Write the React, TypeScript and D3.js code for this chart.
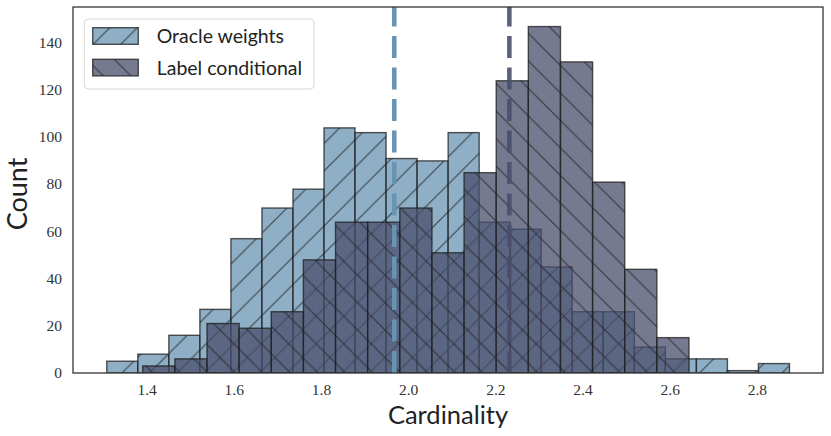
import React from 'react';
import * as d3 from 'd3';

// histogram counts
const oracleCounts = [5, 8, 16, 27, 57, 70, 78, 104, 102, 91, 90, 102, 64, 61, 45, 26, 26, 11, 6, 6, 1, 4];
const labelCounts = [3, 6, 21, 19, 26, 48, 64, 64, 70, 51, 85, 124, 147, 132, 81, 44, 15];
const oracleRange = [1.3075, 2.8735];
const labelRange = [1.39, 2.643];
const oracleMean = 1.967;
const labelMean = 2.231;
const xTicks = [1.4, 1.6, 1.8, 2.0, 2.2, 2.4, 2.6, 2.8];
const yTicks = [0, 20, 40, 60, 80, 100, 120, 140];
const seriesNames = ['Oracle weights', 'Label conditional'];

const W = 831;
const H = 436;
const left = 73, right = 823, top = 7, bottom = 373;
const lightColor = '#6894b3';
const darkColor = '#484e6b';
const edge = '#1e1e1e';
const alpha = 0.75;
const hatch = 27.5;

const makeBins = (counts: number[], range: number[]) => {
  const w = (range[1] - range[0]) / counts.length;
  return counts.map((c, i) => ({ x0: range[0] + i * w, x1: range[0] + (i + 1) * w, count: c }));
};

const App = () => {
  const x = d3.scaleLinear().domain([1.23, 2.9504]).range([left, right]);
  const y = d3.scaleLinear().domain([0, 155.3]).range([bottom, top]);
  const oracleBins = makeBins(oracleCounts, oracleRange);
  const labelBins = makeBins(labelCounts, labelRange);

  const layer = (bins, color, pat, key) => (
    <g key={key}>
      {bins.map((b, i) => {
        const rx = x(b.x0), rw = x(b.x1) - x(b.x0), ry = y(b.count), rh = y(0) - y(b.count);
        return (
          <g key={i}>
            <rect x={rx} y={ry} width={rw} height={rh} fill={color} fillOpacity={alpha} />
            <rect x={rx} y={ry} width={rw} height={rh} fill={`url(#${pat})`} />
            <rect x={rx} y={ry} width={rw} height={rh} fill="none" stroke={edge} strokeOpacity={alpha} strokeWidth={1.4} />
          </g>
        );
      })}
    </g>
  );

  const h = hatch;
  const serif = "'Liberation Serif', 'DejaVu Serif', serif";
  const sans = "Lato, 'Open Sans', sans-serif";

  return (
    <svg width={W} height={H} style={{ position: 'absolute', left: 0, top: 0, background: '#fff' }}>
      <defs>
        <pattern id="fwd" patternUnits="userSpaceOnUse" width={h} height={h}>
          <path d={`M0,${h} L${h},0 M${-h / 2},${h / 2} L${h / 2},${-h / 2} M${h / 2},${h * 1.5} L${h * 1.5},${h / 2}`}
            stroke="#262626" strokeOpacity={0.8} strokeWidth={1.1} />
        </pattern>
        <pattern id="back" patternUnits="userSpaceOnUse" width={h} height={h}>
          <path d={`M0,0 L${h},${h} M${-h / 2},${h / 2} L${h / 2},${h * 1.5} M${h / 2},${-h / 2} L${h * 1.5},${h / 2}`}
            stroke="#262626" strokeOpacity={0.8} strokeWidth={1.1} />
        </pattern>
        <clipPath id="plot">
          <rect x={left} y={top} width={right - left} height={bottom - top} />
        </clipPath>
      </defs>

      <g clipPath="url(#plot)">
        {layer(oracleBins, lightColor, 'fwd', 'o')}
        {layer(labelBins, darkColor, 'back', 'l')}
        <line x1={x(oracleMean)} x2={x(oracleMean)} y1={bottom} y2={top} stroke={lightColor} strokeWidth={4.5} strokeDasharray="22 9.5" />
        <line x1={x(labelMean)} x2={x(labelMean)} y1={bottom} y2={top} stroke={darkColor} strokeWidth={4.5} strokeDasharray="22 9.5" strokeOpacity={0.9} />
      </g>

      <rect x={left} y={top} width={right - left} height={bottom - top} fill="none" stroke="#333" strokeWidth={1.3} />

      {xTicks.map(t => (
        <text key={t} x={x(t)} y={395} textAnchor="middle" fontFamily={serif} fontSize={15.5} fill="#333">
          {d3.format('.1f')(t)}
        </text>
      ))}
      {yTicks.map(t => (
        <text key={t} x={62} y={y(t) + 5} textAnchor="end" fontFamily={serif} fontSize={15.5} fill="#333">
          {t}
        </text>
      ))}

      <text x={448} y={424} textAnchor="middle" fontFamily={sans} fontSize={25.5} fill="#222">Cardinality</text>
      <text transform={`translate(27,194) rotate(-90)`} textAnchor="middle" fontFamily={sans} fontSize={27} fill="#222">Count</text>

      <g>
        <rect x={84.3} y={19} width={229.7} height={70} rx={4} fill="#fff" fillOpacity={0.8} stroke="#d8d8d8" strokeWidth={1} />
        {seriesNames.map((name, i) => {
          const py = 27.7 + i * 31.6;
          const color = i === 0 ? lightColor : darkColor;
          const pat = i === 0 ? 'fwd' : 'back';
          return (
            <g key={name}>
              <rect x={92.7} y={py} width={45.6} height={16.6} fill={color} fillOpacity={alpha} />
              <rect x={92.7} y={py} width={45.6} height={16.6} fill={`url(#${pat})`} />
              <rect x={92.7} y={py} width={45.6} height={16.6} fill="none" stroke={edge} strokeOpacity={alpha} strokeWidth={1.4} />
              <text x={156.7} y={py + 15.5} fontFamily={sans} fontSize={19.5} fill="#222">{name}</text>
            </g>
          );
        })}
      </g>
    </svg>
  );
};

export default App;
